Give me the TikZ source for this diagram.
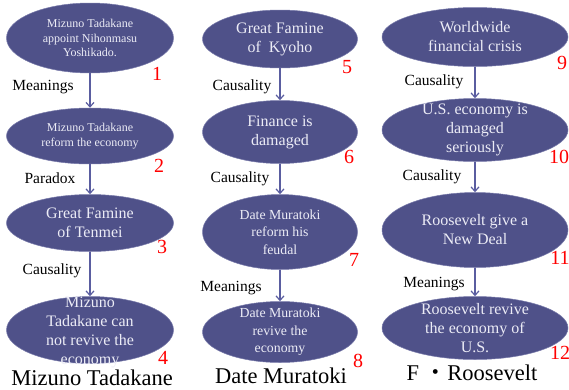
\documentclass[tikz,border=0pt]{standalone}
\usepackage{fontspec}
\setmainfont{Liberation Serif}
\newfontfamily\cjk{Noto Sans CJK JP}
\usetikzlibrary{shapes.geometric,arrows.meta}
\definecolor{ellfill}{RGB}{79,81,137}
\definecolor{elledge}{RGB}{120,122,170}
\definecolor{arrowcol}{RGB}{90,93,160}
\definecolor{elltext}{RGB}{236,236,246}
\begin{document}
\begin{tikzpicture}[x=1pt,y=-1pt,
  ell/.style={ellipse,fill=ellfill,draw=elledge,line width=0.5pt,inner sep=0pt},
  etext/.style={text=elltext,align=center,inner sep=0pt},
  fa/.style={font=\fontsize{12}{14.5}\selectfont},
  fb/.style={font=\fontsize{16}{19}\selectfont},
  fc/.style={font=\fontsize{13.8}{17.5}\selectfont},
  num/.style={text=red,font=\fontsize{20}{22}\selectfont,inner sep=0pt},
  elab/.style={font=\fontsize{15.5}{18}\selectfont,inner sep=0pt},
  ttl/.style={font=\fontsize{22.5}{26}\selectfont,inner sep=0pt,anchor=base},
  conn/.style={draw=arrowcol,line width=1.2pt,-{Straight Barb[length=4.5pt,width=8pt,line width=1.2pt]}}]
\useasboundingbox[fill=white] (0,0) rectangle (569,389);
% column 1
\node[ell,minimum width=167pt,minimum height=70pt] (e1) at (90,38) {};
\node[ell,minimum width=167pt,minimum height=56pt] (e2) at (90,136) {};
\node[ell,minimum width=167pt,minimum height=57pt] (e3) at (90,223) {};
\node[ell,minimum width=167pt,minimum height=67pt] (e4) at (90,330) {};
% column 2
\node[ell,minimum width=155pt,minimum height=58pt] (e5) at (280,39) {};
\node[ell,minimum width=155pt,minimum height=63pt] (e6) at (280,132) {};
\node[ell,minimum width=155pt,minimum height=75pt] (e7) at (280,232) {};
\node[ell,minimum width=155pt,minimum height=61pt] (e8) at (280,332) {};
% column 3
\node[ell,minimum width=186pt,minimum height=59pt] (e9) at (475,37) {};
\node[ell,minimum width=186pt,minimum height=63pt] (e10) at (475,130) {};
\node[ell,minimum width=186pt,minimum height=75pt] (e11) at (475,230) {};
\node[ell,minimum width=186pt,minimum height=63pt] (e12) at (475,328) {};
% texts
\node[etext,fa] (t1) at (e1) {Mizuno Tadakane\\appoint Nihonmasu\\Yoshikado.};
\node[etext,fa] (t2) at (e2) {Mizuno Tadakane\\reform the economy};
\node[etext,fb] (t3) at (e3) {Great Famine\\of Tenmei};
\node[etext,fb] (t4) at ([yshift=-2.5pt]e4.center) {Mizuno\\Tadakane can\\not revive the\\economy};
\node[etext,fb] (t5) at (e5) {Great Famine\\of~~Kyoho};
\node[etext,fb] (t6) at (e6) {Finance is\\damaged};
\node[etext,fc] (t7) at (e7) {Date Muratoki\\reform his\\feudal};
\node[etext,fc] (t8) at (e8) {Date Muratoki\\revive the\\economy};
\node[etext,fb] (t9) at (e9) {Worldwide\\financial crisis};
\node[etext,fb] (t10) at (e10) {U.S. economy is\\damaged\\seriously};
\node[etext,fb] (t11) at (e11) {Roosevelt give a\\New Deal};
\node[etext,fb] (t12) at (e12) {Roosevelt revive\\the economy of\\U.S.};
% connectors
\draw[conn] (e1.south) -- (e2.north);
\draw[conn] (e2.south) -- (e3.north);
\draw[conn] (e3.south) -- (e4.north);
\draw[conn] (e5.south) -- (e6.north);
\draw[conn] (e6.south) -- (e7.north);
\draw[conn] (e7.south) -- (e8.north);
\draw[conn] (e9.south) -- (e10.north);
\draw[conn] (e10.south) -- (e11.north);
\draw[conn] (e11.south) -- (e12.north);
% edge labels
\node[elab] (l1) at (43,87) {Meanings};
\node[elab] (l2) at (50,178) {Paradox};
\node[elab] (l3) at (52,271) {Causality};
\node[elab] (l4) at (242,87) {Causality};
\node[elab] (l5) at (240,179) {Causality};
\node[elab] (l6) at (231,288) {Meanings};
\node[elab] (l7) at (434,82) {Causality};
\node[elab] (l8) at (432,177) {Causality};
\node[elab] (l9) at (434,284) {Meanings};
% numbers
\node[num] (n1) at (157,74) {1};
\node[num] (n2) at (159,166) {2};
\node[num] (n3) at (162,247) {3};
\node[num] (n4) at (163,358) {4};
\node[num] (n5) at (347,67) {5};
\node[num] (n6) at (349,157) {6};
\node[num] (n7) at (354,260) {7};
\node[num] (n8) at (358,361) {8};
\node[num] (n9) at (562,63) {9};
\node[num] (n10) at (559,157) {10};
\node[num] (n11) at (560,258) {11};
\node[num] (n12) at (560,353) {12};
% titles
\node[ttl] (h1) at (92,385.5) {Mizuno Tadakane};
\node[ttl] (h2) at (281,383) {Date Muratoki};
\node[ttl] (h3) at (472,380) {F {\cjk ・}Roosevelt};
\end{tikzpicture}
\end{document}
